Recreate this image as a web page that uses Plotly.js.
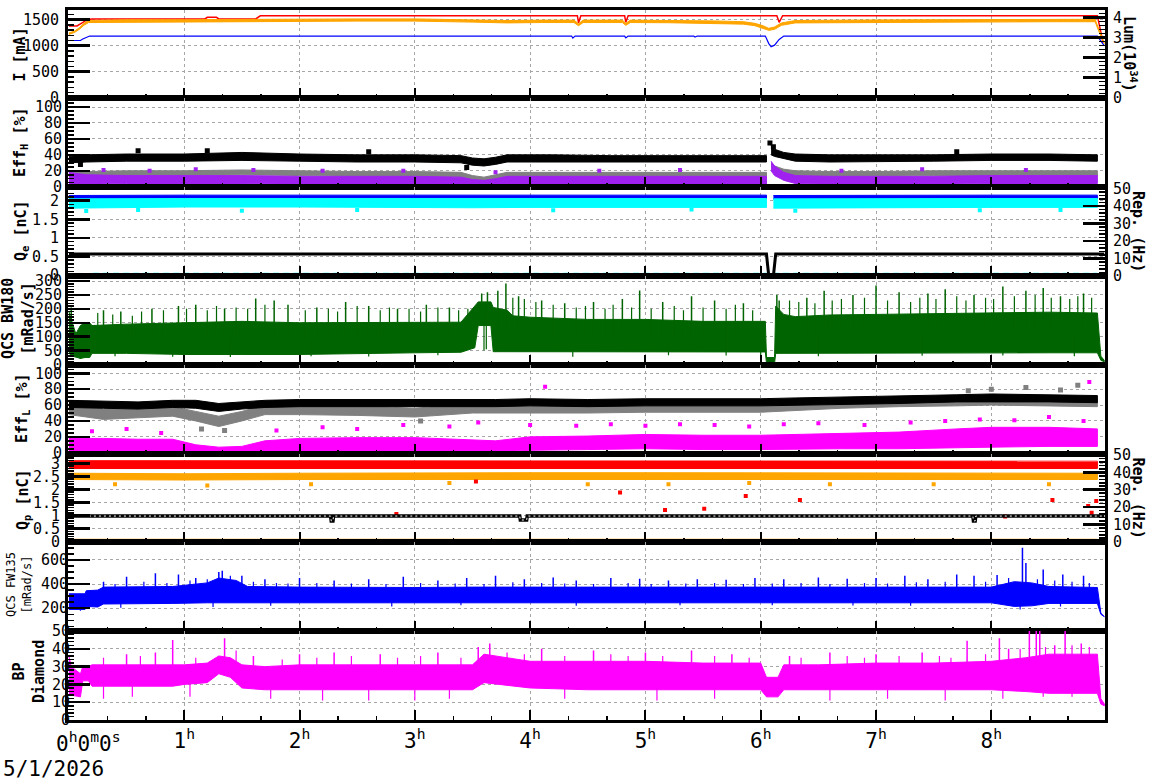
<!DOCTYPE html>
<html>
<head>
<meta charset="utf-8">
<script src="https://cdn.plot.ly/plotly-3.0.1.min.js"></script>
<style>html,body{margin:0;padding:0;background:#fff;}#chart{width:1172px;height:782px;}</style>
</head>
<body>
<div id="chart"></div>
<script>
// ===================== DATA (time in hours) =====================
// Panel 1: beam currents [mA] and luminosity [1e34]
const curE_t = [0, 0.10, 0.12, 0.15, 0.18, 4.36, 4.37, 4.39, 4.82, 4.83, 4.85, 5.42, 5.43, 5.45, 6.04, 6.07, 6.09, 6.12, 6.16, 6.20, 8.92, 8.96, 8.98];
const curE_v = [1100, 1100, 1130, 1160, 1185, 1185, 1145, 1185, 1185, 1150, 1185, 1185, 1165, 1185, 1185, 1040, 980, 1010, 1120, 1185, 1185, 1060, 1000];
const curP_t = [0, 0.07, 0.10, 0.16, 0.20, 1.18, 1.20, 1.28, 1.30, 1.62, 1.66, 4.41, 4.42, 4.44, 4.82, 4.83, 4.85, 6.14, 6.16, 6.19, 8.92, 8.97];
const curP_v = [1380, 1380, 1420, 1500, 1515, 1515, 1545, 1545, 1515, 1515, 1575, 1575, 1440, 1575, 1575, 1450, 1575, 1575, 1450, 1575, 1575, 1050];
const lum_t  = [0, 0.05, 0.09, 0.13, 0.17, 0.5, 1.0, 1.5, 2.0, 2.5, 3.0, 3.5, 3.8, 4.1, 4.38, 4.42, 4.46, 4.8, 4.83, 4.87, 5.2, 5.6, 5.85, 5.95, 6.02, 6.07, 6.12, 6.18, 6.3, 6.6, 7.0, 7.5, 8.0, 8.5, 8.9, 8.94, 8.98];
const lum_lo = [3.15, 3.25, 3.40, 3.60, 3.74, 3.76, 3.78, 3.79, 3.80, 3.81, 3.81, 3.76, 3.72, 3.74, 3.74, 3.58, 3.74, 3.74, 3.60, 3.74, 3.73, 3.70, 3.66, 3.58, 3.45, 3.35, 3.40, 3.60, 3.72, 3.74, 3.75, 3.76, 3.77, 3.78, 3.78, 3.20, 2.70];
const lum_hi = [3.22, 3.32, 3.48, 3.70, 3.84, 3.88, 3.88, 3.90, 3.91, 3.92, 3.92, 3.88, 3.84, 3.86, 3.86, 3.68, 3.86, 3.86, 3.70, 3.86, 3.85, 3.82, 3.78, 3.70, 3.58, 3.45, 3.52, 3.72, 3.84, 3.86, 3.87, 3.88, 3.89, 3.90, 3.90, 3.30, 2.75];

// Panel 2: Eff_H [%]
const effH_t = [0, 0.15, 0.5, 1.0, 1.5, 2.0, 2.5, 3.0, 3.4, 3.5, 3.6, 3.7, 3.8, 4.2, 4.7, 5.2, 5.7, 6.05, 6.07, 6.09, 6.12, 6.2, 6.3, 6.6, 7.0, 7.5, 8.0, 8.5, 8.92];
const effH_black_lo  = [30, 31, 32, 32, 33, 32, 31, 31, 30, 27, 26, 28, 31, 31, 31, 31, 31, 31, null, 40, 38, 35, 32, 31, 31, 32, 33, 33, 32];
const effH_black_hi  = [38, 40, 41, 41, 43, 41, 40, 40, 39, 36, 35, 37, 40, 40, 39, 39, 39, 39, null, 52, 47, 43, 41, 40, 40, 40, 41, 41, 40];
const effH_gray_lo   = [12, 13, 14, 14, 15, 14, 13, 13, 12, 8, 6, 9, 12, 12, 12, 12, 12, 12, null, 24, 20, 16, 14, 13, 13, 14, 14, 14, 14];
const effH_gray_hi   = [18, 19, 20, 20, 21, 20, 19, 19, 18, 14, 12, 15, 18, 18, 18, 18, 18, 18, null, 30, 26, 22, 20, 19, 19, 20, 20, 20, 20];
const effH_purple_lo = [3, 3, 4, 4, 4, 3, 3, 3, 3, 1, 0, 1, 3, 3, 3, 3, 3, 3, null, 20, 14, 8, 4, 3, 3, 3, 4, 4, 4];
const effH_purple_hi = [18, 15, 14, 14, 14, 13, 13, 13, 12, 9, 8, 10, 13, 13, 13, 13, 13, 13, null, 32, 26, 18, 14, 13, 13, 13, 14, 14, 14];
const effH_black_out_t = [0.1, 0.6, 1.2, 2.6, 3.45, 6.08, 6.11, 7.7];
const effH_black_out_v = [28, 45, 45, 44, 24, 55, 50, 44];
const effH_purple_out_t = [0.3, 0.7, 1.1, 1.6, 2.2, 2.9, 3.7, 4.6, 5.3, 6.7, 7.4, 8.3];
const effH_purple_out_v = [21, 20, 22, 21, 20, 20, 18, 20, 21, 20, 22, 21];

// Panel 3: Q_e [nC] and Rep. (Hz)
const qe_t = [0, 0.5, 1.0, 2.0, 3.0, 3.5, 4.0, 5.0, 6.05, 6.08, 6.11, 7.0, 8.0, 8.92];
const qe_blue_lo = [2.04, 2.05, 2.05, 2.05, 2.05, 2.04, 2.05, 2.05, 2.05, null, 2.04, 2.05, 2.05, 2.05];
const qe_blue_hi = [2.14, 2.15, 2.15, 2.15, 2.15, 2.14, 2.15, 2.15, 2.15, null, 2.14, 2.15, 2.15, 2.15];
const qe_cyan_lo = [1.80, 1.82, 1.83, 1.83, 1.82, 1.81, 1.82, 1.83, 1.82, null, 1.80, 1.82, 1.82, 1.82];
const qe_cyan_hi = [2.05, 2.06, 2.06, 2.06, 2.06, 2.05, 2.06, 2.06, 2.06, null, 2.05, 2.06, 2.06, 2.06];
const qe_cyan_out_t = [0.15, 0.6, 1.5, 2.5, 4.2, 5.4, 6.3, 7.9, 8.6];
const qe_cyan_out_v = [1.72, 1.75, 1.73, 1.75, 1.74, 1.76, 1.73, 1.74, 1.75];
const repE_t = [0, 6.05, 6.06, 6.07, 6.11, 6.12, 6.13, 8.98];
const repE_v = [12.5, 12.5, 6, 0, 0, 5, 12.5, 12.5];
const repEc_t = [0.21, 8.92];
const repEc_v = [1.0, 1.0];

// Panel 4: QCS BW180 [mRad/s]
const bw_t  = [0, 0.03, 0.06, 0.1, 0.14, 0.18, 0.2, 0.5, 1.0, 1.5, 2.0, 2.5, 3.0, 3.4, 3.52, 3.55, 3.66, 3.68, 3.8, 3.85, 4.0, 4.5, 5.0, 5.5, 6.0, 6.04, 6.05, 6.12, 6.13, 6.2, 6.3, 6.6, 7.0, 7.5, 8.0, 8.5, 8.92, 8.95, 8.98];
const bw_lo = [40, 30, 25, 22, 25, 25, 40, 40, 36, 36, 36, 38, 42, 44, 60, 140, 140, 46, 46, 44, 44, 44, 45, 45, 45, 45, 5, 5, 40, 40, 40, 42, 42, 42, 42, 42, 42, 15, 10];
const bw_hi = [190, 150, 110, 140, 150, 150, 140, 145, 150, 155, 150, 150, 152, 152, 210, 225, 225, 205, 195, 175, 170, 162, 162, 155, 155, 155, 25, 25, 210, 180, 172, 178, 180, 182, 185, 188, 185, 30, 15];
const bw_spk_t = [0.02, 0.3, 0.45, 0.72, 0.95, 1.1, 1.35, 1.62, 1.78, 1.9, 2.15, 2.4, 2.6, 2.85, 3.1, 3.3, 3.58, 3.63, 3.72, 3.79, 3.9, 4.1, 4.3, 4.55, 4.8, 4.95, 5.15, 5.4, 5.6, 5.85, 6.14, 6.16, 6.4, 6.55, 6.8, 7.0, 7.2, 7.45, 7.6, 7.85, 8.1, 8.3, 8.45, 8.6, 8.8];
const bw_spk_v = [205, 195, 190, 200, 210, 215, 200, 237, 230, 215, 205, 225, 210, 200, 215, 205, 255, 260, 265, 291, 245, 230, 220, 225, 235, 266, 225, 245, 230, 220, 250, 230, 240, 265, 250, 284, 260, 255, 270, 250, 280, 265, 275, 245, 255];
const bw_spk2_t = [0.25, 0.38, 0.55, 0.63, 0.82, 1.02, 1.2, 1.28, 1.45, 1.55, 1.7, 2.05, 2.25, 2.33, 2.5, 2.7, 2.78, 2.95, 3.05, 3.2, 3.38, 3.46, 3.85, 3.95, 4.05, 4.2, 4.4, 4.48, 4.65, 4.72, 4.88, 5.05, 5.25, 5.33, 5.5, 5.7, 5.78, 5.93, 6.25, 6.33, 6.47, 6.62, 6.7, 6.9, 7.1, 7.3, 7.38, 7.52, 7.7, 7.78, 7.95, 8.02, 8.2, 8.38, 8.52, 8.68, 8.75, 8.87];
const bw_spk2_v = [185, 180, 175, 190, 195, 200, 195, 210, 205, 200, 215, 195, 200, 190, 210, 195, 205, 200, 190, 205, 195, 200, 240, 235, 225, 215, 205, 210, 200, 215, 205, 200, 210, 195, 205, 200, 215, 195, 230, 225, 220, 230, 235, 240, 230, 225, 240, 235, 245, 230, 240, 235, 245, 250, 240, 235, 245, 240];
const bw_dip_t = [0.1, 0.4, 0.9, 1.4, 2.1, 2.6, 3.2, 3.6, 3.62, 4.37, 5.2, 5.7, 6.0, 6.5, 7.4, 8.1, 8.72];
const bw_dip_v = [20, 30, 28, 27, 30, 29, 33, 50, 55, 28, 33, 32, 20, 30, 31, 32, 30];

// Panel 5: Eff_L [%]
const effL_t = [0, 0.3, 0.6, 0.9, 1.1, 1.3, 1.5, 1.7, 2.0, 2.5, 3.0, 3.5, 3.7, 4.0, 4.5, 5.0, 5.5, 6.0, 6.3, 6.7, 7.2, 7.7, 8.0, 8.5, 8.92];
const effL_black_lo = [57, 56, 55, 57, 56, 52, 55, 57, 58, 58, 58, 58, 58, 59, 58, 59, 59, 59, 60, 61, 62, 64, 64, 64, 63];
const effL_black_hi = [66, 65, 64, 66, 66, 62, 64, 66, 67, 67, 67, 67, 67, 68, 67, 68, 68, 68, 69, 70, 71, 73, 74, 73, 72];
const effL_gray_lo  = [48, 42, 44, 46, 40, 33, 40, 48, 48, 47, 45, 50, 50, 50, 50, 51, 51, 51, 53, 56, 58, 59, 60, 59, 58];
const effL_gray_hi  = [60, 55, 57, 58, 52, 46, 52, 60, 60, 59, 56, 62, 62, 62, 62, 62, 62, 62, 64, 66, 68, 69, 70, 69, 68];
const effL_mag_lo   = [2, 2, 2, 2, 0, 0, 0, 2, 2, 2, 2, 1, 1, 3, 4, 5, 4, 4, 4, 5, 5, 6, 7, 8, 8];
const effL_mag_hi   = [18, 18, 17, 17, 10, 7, 8, 15, 18, 19, 19, 16, 15, 20, 21, 23, 22, 22, 23, 24, 26, 30, 32, 32, 30];
const effL_mag_out_t = [0.2, 0.5, 0.8, 1.8, 2.2, 2.5, 2.9, 3.3, 3.55, 4.0, 4.13, 4.4, 4.7, 5.0, 5.3, 5.6, 5.9, 6.2, 6.5, 6.9, 7.3, 7.6, 7.9, 8.2, 8.5, 8.8, 8.85];
const effL_mag_out_v = [27, 30, 25, 28, 32, 30, 35, 33, 38, 35, 83, 34, 36, 34, 36, 35, 33, 36, 37, 35, 38, 40, 42, 41, 45, 40, 89];
const effL_gray_out_t = [1.15, 1.35, 3.05, 7.8, 8.0, 8.3, 8.6, 8.75];
const effL_gray_out_v = [30, 28, 40, 78, 80, 82, 79, 85];

// Panel 6: Q_p [nC] and Rep. (Hz)
const qp_t = [0, 1, 2, 3, 4, 5, 6, 7, 8, 8.92];
const qp_red_lo = [2.80, 2.80, 2.80, 2.78, 2.80, 2.80, 2.78, 2.80, 2.80, 2.80];
const qp_red_hi = [3.10, 3.10, 3.08, 3.10, 3.10, 3.08, 3.10, 3.10, 3.08, 3.08];
const qp_org_lo = [2.38, 2.36, 2.38, 2.40, 2.40, 2.40, 2.40, 2.40, 2.38, 2.38];
const qp_org_hi = [2.62, 2.60, 2.62, 2.64, 2.64, 2.64, 2.64, 2.64, 2.62, 2.62];
const qp_red_out_t = [2.84, 3.53, 4.78, 5.17, 5.51, 5.87, 6.34, 8.12, 8.53, 8.84, 8.87, 8.91];
const qp_red_out_v = [1.06, 2.3, 1.88, 1.21, 1.26, 1.75, 1.6, 0.96, 1.6, 1.37, 1.11, 1.56];
const qp_org_out_t = [0.4, 1.2, 2.1, 3.3, 4.5, 5.2, 5.9, 6.6, 7.5, 8.5];
const qp_org_out_v = [2.2, 2.15, 2.2, 2.25, 2.2, 2.2, 2.25, 2.2, 2.2, 2.2];
const repP_t = [0, 2.27, 2.275, 2.29, 2.295, 3.91, 3.915, 3.97, 3.975, 7.84, 7.845, 7.86, 7.865, 8.98];
const repP_v = [14.8, 14.8, 12, 12, 14.8, 14.8, 12.5, 12.5, 14.8, 14.8, 12, 12, 14.8, 14.8];
const repPo_t = [0, 8.92];
const repPo_v = [0.8, 0.8];

// Panel 7: QCS FW135 [mRad/s]
const fw_t  = [0, 0.14, 0.15, 0.25, 0.3, 0.6, 0.9, 1.2, 1.3, 1.45, 1.55, 2.0, 2.5, 3.0, 3.5, 4.0, 4.5, 5.0, 5.5, 6.0, 6.5, 7.0, 7.5, 8.0, 8.2, 8.35, 8.5, 8.92, 8.95, 8.98];
const fw_lo = [190, 190, 215, 210, 235, 240, 240, 245, 250, 250, 245, 245, 245, 245, 245, 250, 250, 250, 250, 245, 245, 245, 245, 245, 215, 220, 240, 240, 150, 130];
const fw_hi = [320, 320, 345, 350, 375, 380, 380, 410, 450, 430, 380, 375, 372, 372, 375, 375, 372, 372, 372, 372, 372, 372, 372, 375, 420, 410, 380, 372, 160, 135];
const fw_spk_t = [0.3, 0.5, 0.75, 0.95, 1.1, 1.3, 1.33, 1.5, 1.7, 2.0, 2.3, 2.6, 2.9, 3.2, 3.45, 3.7, 3.95, 4.2, 4.4, 4.7, 4.95, 5.2, 5.45, 5.7, 5.95, 6.2, 6.5, 6.75, 7.0, 7.25, 7.45, 7.7, 7.85, 8.05, 8.27, 8.3, 8.45, 8.62, 8.8];
const fw_spk_v = [420, 460, 490, 480, 450, 500, 510, 470, 440, 450, 430, 440, 460, 430, 450, 470, 440, 455, 430, 450, 445, 430, 440, 435, 450, 440, 455, 445, 450, 470, 440, 480, 470, 475, 700, 575, 520, 480, 470];
const fw_spk2_t = [0.4, 0.65, 0.85, 1.05, 1.2, 1.4, 1.6, 1.8, 1.9, 2.15, 2.45, 2.75, 3.05, 3.35, 3.6, 3.85, 4.1, 4.3, 4.55, 4.85, 5.05, 5.35, 5.6, 5.85, 6.1, 6.35, 6.6, 6.9, 7.1, 7.35, 7.6, 7.95, 8.15, 8.4, 8.55, 8.7, 8.85];
const fw_spk2_v = [400, 420, 410, 430, 440, 470, 420, 410, 405, 410, 405, 400, 410, 405, 400, 415, 410, 405, 400, 410, 400, 405, 410, 400, 405, 410, 400, 410, 405, 415, 420, 420, 450, 440, 430, 420, 410];
const fw_dip_t = [0.1, 0.45, 1.25, 1.75, 2.8, 3.4, 4.4, 5.3, 6.1, 6.8, 7.3, 8.25, 8.6];
const fw_dip_v = [180, 205, 210, 220, 215, 225, 220, 225, 225, 222, 220, 190, 215];

// Panel 8: BP Diamond
const bp_t  = [0, 0.02, 0.1, 0.12, 0.17, 0.2, 0.5, 0.9, 1.0, 1.2, 1.3, 1.4, 1.5, 1.7, 2.0, 2.5, 3.0, 3.5, 3.6, 3.7, 4.0, 4.5, 5.0, 5.5, 6.0, 6.05, 6.15, 6.2, 6.5, 7.0, 7.5, 8.0, 8.3, 8.5, 8.92, 8.95, 8.98];
const bp_lo = [15, 14, 13, 22, 22, 19, 19, 19, 20, 21, 26, 24, 18, 17, 17, 17, 17, 17, 21, 20, 18, 17, 17, 17, 17, 13, 13, 17, 17, 17, 17, 17, 16, 15, 15, 9, 8];
const bp_hi = [36, 30, 26, 30, 30, 31, 31, 31, 31, 32, 36, 35, 31, 30, 31, 31, 31, 31, 37, 36, 33, 33, 33, 32, 32, 24, 24, 31, 31, 32, 32, 33, 35, 37, 37, 12, 9];
const bp_spk_t = [0.5, 0.75, 0.9, 1.35, 1.6, 2.0, 2.3, 2.7, 3.2, 3.55, 3.65, 4.1, 4.55, 5.0, 5.4, 5.75, 6.25, 6.6, 7.0, 7.4, 7.79, 8.07, 8.15, 8.33, 8.39, 8.42, 8.55, 8.64, 8.78];
const bp_spk_v = [37, 38, 45, 46, 36, 37, 38, 37, 38, 41, 43, 40, 39, 38, 39, 37, 36, 38, 37, 38, 44.5, 46, 40, 50, 50, 50, 42, 50, 43];
const bp_spk2_t = [0.3, 0.62, 1.1, 1.45, 1.85, 2.15, 2.45, 2.85, 3.05, 3.4, 3.8, 3.95, 4.3, 4.7, 4.85, 5.15, 5.6, 5.9, 6.35, 6.75, 6.9, 7.2, 7.55, 7.65, 7.95, 8.25, 8.47, 8.7, 8.85];
const bp_spk2_v = [35, 36, 35, 39, 34, 35, 36, 35, 36, 35, 38, 37, 36, 37, 36, 36, 36, 35, 35, 36, 35, 36, 36, 35, 37, 40, 41, 42, 41];
const bp_dip_t = [0.3, 0.55, 1.05, 1.75, 2.2, 2.6, 3.0, 3.3, 4.3, 5.1, 5.6, 6.6, 7.1, 7.6, 8.1, 8.45, 8.7];
const bp_dip_v = [12, 13, 13, 12, 11, 11, 11, 12, 12, 11, 12, 11, 12, 11, 12, 13, 13];

// Axis tick labels
const hourVals = [0, 1, 2, 3, 4, 5, 6, 7, 8];
const hourText = ['', '1<sup>h</sup>', '2<sup>h</sup>', '3<sup>h</sup>', '4<sup>h</sup>', '5<sup>h</sup>', '6<sup>h</sup>', '7<sup>h</sup>', '8<sup>h</sup>'];
const startLabel = '0<sup>h</sup>0<sup>m</sup>0<sup>s</sup>';
const dateLabel = '5/1/2026';

// ===================== HELPERS =====================
const C = {red:'#ff0000', orange:'#ffa500', blue:'#0000ff', black:'#000000', gray:'#808080',
           purple:'#a020f0', cyan:'#00ffff', green:'#006400', magenta:'#ff00ff'};
const traces = [];
function band(t, lo, hi, color, xa, ya){
  let seg = [];
  const flush = () => {
    if (seg.length > 1){
      const xs = seg.map(i => t[i]);
      const yh = seg.map(i => hi[i]);
      const yl = seg.map(i => lo[i]);
      traces.push({x: xs.concat(xs.slice().reverse()), y: yh.concat(yl.slice().reverse()),
        mode:'lines', fill:'toself', fillcolor:color, line:{color:color, width:1},
        xaxis:xa, yaxis:ya, hoverinfo:'skip', showlegend:false});
    }
    seg = [];
  };
  for (let i = 0; i < t.length; i++){ if (lo[i] === null) flush(); else seg.push(i); }
  flush();
}
function interp(t, v, x){
  for (let i = 0; i < t.length - 1; i++){
    if (x >= t[i] && x <= t[i+1]){
      const a = v[i], b = v[i+1];
      if (a === null || b === null) return a === null ? b : a;
      return a + (b - a) * (x - t[i]) / (t[i+1] - t[i]);
    }
  }
  return v[v.length - 1];
}
function spikes(t, lo, hi, st, sv, color, xa, ya, w){
  const xs = [], ys = [];
  st.forEach((s, k) => {
    const mid = (interp(t, lo, s) + interp(t, hi, s)) / 2;
    xs.push(s, s, null); ys.push(mid, sv[k], null);
  });
  traces.push({x:xs, y:ys, mode:'lines', line:{color:color, width:w || 1.5},
    xaxis:xa, yaxis:ya, hoverinfo:'skip', showlegend:false});
}
function line(t, v, color, width, xa, ya, dash){
  traces.push({x:t, y:v, mode:'lines', line:{color:color, width:width, dash:dash || 'solid'},
    xaxis:xa, yaxis:ya, hoverinfo:'skip', showlegend:false});
}
function dots(t, v, color, xa, ya, size){
  traces.push({x:t, y:v, mode:'markers', marker:{color:color, symbol:'square', size:size || 4},
    xaxis:xa, yaxis:ya, hoverinfo:'skip', showlegend:false});
}

// ===================== TRACES =====================
// Panel 1
band(lum_t, lum_lo, lum_hi, C.orange, 'x', 'y9');
line(curP_t, curP_v, C.red, 1.5, 'x', 'y');
line(curE_t, curE_v, C.blue, 1.2, 'x', 'y');
// Panel 2
band(effH_t, effH_gray_lo, effH_gray_hi, C.gray, 'x2', 'y2');
band(effH_t, effH_purple_lo, effH_purple_hi, C.purple, 'x2', 'y2');
band(effH_t, effH_black_lo, effH_black_hi, C.black, 'x2', 'y2');
dots(effH_black_out_t, effH_black_out_v, C.black, 'x2', 'y2', 5);
dots(effH_purple_out_t, effH_purple_out_v, C.purple, 'x2', 'y2', 4);
// Panel 3
band(qe_t, qe_blue_lo, qe_blue_hi, C.blue, 'x3', 'y3');
band(qe_t, qe_cyan_lo, qe_cyan_hi, C.cyan, 'x3', 'y3');
dots(qe_cyan_out_t, qe_cyan_out_v, C.cyan, 'x3', 'y3', 4);
line(repEc_t, repEc_v, C.cyan, 3, 'x3', 'y10', '6px,4px');
line(repE_t, repE_v, C.black, 3, 'x3', 'y10');
// Panel 4
band(bw_t, bw_lo, bw_hi, C.green, 'x4', 'y4');
spikes(bw_t, bw_lo, bw_hi, bw_spk_t, bw_spk_v, C.green, 'x4', 'y4');
spikes(bw_t, bw_lo, bw_hi, bw_spk2_t, bw_spk2_v, C.green, 'x4', 'y4', 1.2);
spikes(bw_t, bw_lo, bw_hi, bw_dip_t, bw_dip_v, C.green, 'x4', 'y4', 1.2);
// Panel 5
band(effL_t, effL_mag_lo, effL_mag_hi, C.magenta, 'x5', 'y5');
dots(effL_mag_out_t, effL_mag_out_v, C.magenta, 'x5', 'y5', 4);
band(effL_t, effL_gray_lo, effL_gray_hi, C.gray, 'x5', 'y5');
band(effL_t, effL_black_lo, effL_black_hi, C.black, 'x5', 'y5');
dots(effL_gray_out_t, effL_gray_out_v, C.gray, 'x5', 'y5', 5);
// Panel 6
band(qp_t, qp_org_lo, qp_org_hi, C.orange, 'x6', 'y6');
band(qp_t, qp_red_lo, qp_red_hi, C.red, 'x6', 'y6');
dots(qp_org_out_t, qp_org_out_v, C.orange, 'x6', 'y6', 4);
dots(qp_red_out_t, qp_red_out_v, C.red, 'x6', 'y6', 4);
line(repPo_t, repPo_v, C.orange, 3, 'x6', 'y11');
line(repP_t, repP_v, C.black, 3.5, 'x6', 'y11');
line(repP_t, repP_v, '#ffffff', 1, 'x6', 'y11', '2px,3px');
// Panel 7
band(fw_t, fw_lo, fw_hi, C.blue, 'x7', 'y7');
spikes(fw_t, fw_lo, fw_hi, fw_spk_t, fw_spk_v, C.blue, 'x7', 'y7');
spikes(fw_t, fw_lo, fw_hi, fw_spk2_t, fw_spk2_v, C.blue, 'x7', 'y7', 1.2);
spikes(fw_t, fw_lo, fw_hi, fw_dip_t, fw_dip_v, C.blue, 'x7', 'y7', 1.2);
// Panel 8
band(bp_t, bp_lo, bp_hi, C.magenta, 'x8', 'y8');
spikes(bp_t, bp_lo, bp_hi, bp_spk_t, bp_spk_v, C.magenta, 'x8', 'y8');
spikes(bp_t, bp_lo, bp_hi, bp_spk2_t, bp_spk2_v, C.magenta, 'x8', 'y8', 1.2);
spikes(bp_t, bp_lo, bp_hi, bp_dip_t, bp_dip_v, C.magenta, 'x8', 'y8', 1.2);

// ===================== LAYOUT =====================
const W = 1172, H = 782, PL = 68, PR = 1105, PT = 10, PB = 720;
const bounds = [10, 97.7, 186.7, 276, 364.5, 454, 541.7, 630.7, 720];
const dom = i => [(PB - bounds[i+1]) / (PB - PT), (PB - bounds[i]) / (PB - PT)];
const px2x = px => (px - PL) / (PR - PL);
const py2y = py => (PB - py) / (PB - PT);
const mono = 'DejaVu Sans Mono, monospace';
const tickFont = {family: mono, size: 15, color: '#000'};
const gridColor = '#a6a6a6', gridDash = '3px,3px';

const layout = {
  width: W, height: H,
  margin: {l: PL, r: W - PR, t: PT, b: H - PB, pad: 0},
  paper_bgcolor: '#fff', plot_bgcolor: 'rgba(0,0,0,0)',
  showlegend: false,
  font: {family: mono, color: '#000'},
  annotations: []
};
const xRange = [-0.008, 8.986];
for (let i = 0; i < 8; i++){
  const k = i === 0 ? '' : String(i + 1);
  layout['xaxis' + k] = {
    domain: [0, 1], anchor: 'y' + k, range: xRange, matches: i === 0 ? undefined : 'x',
    tickmode: 'array', tickvals: hourVals, ticktext: hourText,
    showticklabels: i === 7, tickfont: {family: mono, size: 21, color: '#000'},
    ticks: 'inside', ticklen: 10, tickwidth: 2, tickcolor: '#000',
    minor: {tickmode: 'linear', tick0: 0, dtick: 1/3, ticks: 'inside', ticklen: 4, tickwidth: 1.5, tickcolor: '#000', showgrid: false},
    showgrid: true, gridcolor: gridColor, griddash: gridDash, gridwidth: 1,
    showline: true, linecolor: '#000', linewidth: 3, mirror: true, zeroline: false, fixedrange: true
  };
}
const ySpec = [
  {range: [0, 1686], dtick: 500, minor: 100, standoff: 3},
  {range: [0, 111.7], dtick: 20, minor: 5, standoff: 0},
  {range: [-0.027, 2.377], dtick: 0.5, minor: 0.1, standoff: 3},
  {range: [0, 318], dtick: 50, minor: 10, standoff: 0},
  {range: [-1.6, 111.1], dtick: 20, minor: 5, standoff: 0},
  {range: [0, 3.356], dtick: 0.5, minor: 0.1, standoff: 2},
  {range: [14, 751], dtick: 200, minor: 50, standoff: -6},
  {range: [0, 50.2], dtick: 10, minor: 2, standoff: -8}
];
function yAxisBase(spec){
  return {
    range: spec.range, tickmode: 'linear', tick0: 0, dtick: spec.dtick,
    ticks: 'inside', ticklen: 22, tickwidth: 2.5, tickcolor: '#000', tickfont: tickFont,
    ticklabelstandoff: spec.standoff,
    minor: {tickmode: 'linear', tick0: 0, dtick: spec.minor, ticks: 'inside', ticklen: 6, tickwidth: 1.5, tickcolor: '#000', showgrid: false},
    showline: true, linecolor: '#000', linewidth: 3, zeroline: false, fixedrange: true
  };
}
for (let i = 0; i < 8; i++){
  const k = i === 0 ? '' : String(i + 1);
  layout['yaxis' + k] = Object.assign(yAxisBase(ySpec[i]), {
    domain: dom(i), anchor: 'x' + k, side: 'left', mirror: true,
    showgrid: true, gridcolor: gridColor, griddash: gridDash, gridwidth: 1
  });
}
layout.yaxis9  = Object.assign(yAxisBase({range: [0, 4.363], dtick: 1, minor: 0.2, standoff: 3}), {overlaying: 'y', anchor: 'x', side: 'right', showgrid: false, linewidth: 2});
layout.yaxis10 = Object.assign(yAxisBase({range: [0, 50.9], dtick: 10, minor: 2, standoff: 3}), {overlaying: 'y3', anchor: 'x3', side: 'right', showgrid: false, linewidth: 2});
layout.yaxis11 = Object.assign(yAxisBase({range: [0, 50.6], dtick: 10, minor: 2, standoff: 3}), {overlaying: 'y6', anchor: 'x6', side: 'right', showgrid: false, linewidth: 2});

function ann(text, px, py, angle, size, weight, extra){
  layout.annotations.push(Object.assign({
    text: text, xref: 'paper', yref: 'paper', x: px2x(px), y: py2y(py),
    xanchor: 'center', yanchor: 'middle', textangle: angle, showarrow: false,
    font: {family: mono, size: size, color: '#000', weight: weight}
  }, extra || {}));
}
ann('I [mA]', 19, 54.5, -90, 15, 'bold');
ann('Eff<sub>H</sub> [%]', 21, 142, -90, 15, 'bold');
ann('Q<sub>e</sub> [nC]', 21, 231, -90, 15, 'bold');
ann('QCS BW180<br>[mRad/s]', 18, 319, -90, 15, 'bold');
ann('Eff<sub>L</sub> [%]', 23, 408, -90, 15, 'bold');
ann('Q<sub>p</sub> [nC]', 23, 500, -90, 15, 'bold');
ann('QCS FW135<br>[mRad/s]', 19, 585, -90, 12, 'normal');
ann('BP<br>Diamond', 29, 672, -90, 15, 'bold');
ann('Lum(10<sup>34</sup>)', 1130, 54, 90, 15, 'bold');
ann('Rep. (Hz)', 1138, 231, 90, 15, 'bold');
ann('Rep. (Hz)', 1138, 497.5, 90, 15, 'bold');
ann(startLabel, 54, 742, 0, 21, 'normal', {xanchor: 'left'});
ann(dateLabel, 1, 769, 0, 21, 'normal', {xanchor: 'left'});

Plotly.newPlot('chart', traces, layout, {staticPlot: true, displayModeBar: false});
</script>
</body>
</html>
